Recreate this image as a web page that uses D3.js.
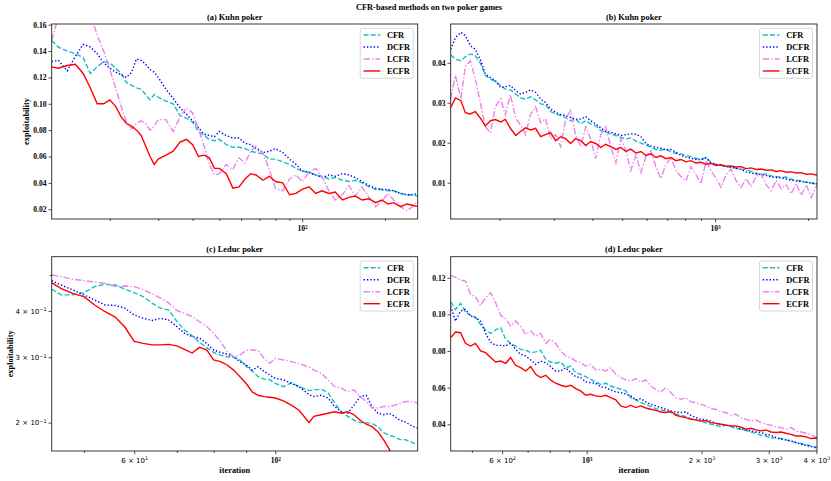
<!DOCTYPE html>
<html>
<head>
<meta charset="utf-8">
<title>CFR-based methods on two poker games</title>
<script src="https://cdn.jsdelivr.net/npm/d3@7/dist/d3.min.js"></script>
<style>
  body { margin: 0; background: #fff; }
  text { font-family: "Liberation Serif", "Times New Roman", serif; font-weight: bold; fill: #000; }
  text.sans { font-family: "DejaVu Sans", sans-serif; font-weight: normal; }
</style>
</head>
<body>
<svg id="fig" width="831" height="481"></svg>
<script>
// legend order
var methods = ['CFR', 'DCFR', 'LCFR', 'ECFR'];

// (a) Kuhn poker, short run
var iterA = [12.3, 13, 14, 15, 16, 17, 18, 19, 20, 21, 22, 23, 24, 25, 26, 27, 28, 29, 30, 32, 34, 36, 38, 40, 42, 44, 46, 48, 50, 53,
  56, 59, 62, 65, 68, 72, 76, 80, 85, 90, 95, 100, 106, 112, 118, 125, 132, 140, 148, 156, 165, 175, 185, 195, 205, 215, 228, 240, 252, 263];
var cfrA = [0.148, 0.143, 0.140, 0.138, 0.135, 0.123, 0.128, 0.132, 0.131, 0.127, 0.123, 0.116, 0.114, 0.112, 0.111, 0.107, 0.103, 0.107, 0.105, 0.102,
  0.100, 0.091, 0.089, 0.086, 0.079, 0.076, 0.073, 0.072, 0.073, 0.069, 0.067, 0.067, 0.066, 0.064, 0.063, 0.062, 0.058, 0.058, 0.056, 0.054,
  0.051, 0.049, 0.048, 0.046, 0.045, 0.043, 0.044, 0.042, 0.041, 0.042, 0.040, 0.037, 0.035, 0.035, 0.034, 0.034, 0.032, 0.031, 0.031, 0.030];
var dcfrA = [0.132, 0.133, 0.125, 0.136, 0.145, 0.143, 0.138, 0.131, 0.127, 0.124, 0.122, 0.120, 0.124, 0.134, 0.133, 0.130, 0.126, 0.124, 0.120, 0.111,
  0.104, 0.097, 0.092, 0.087, 0.082, 0.077, 0.076, 0.075, 0.079, 0.076, 0.074, 0.074, 0.070, 0.069, 0.066, 0.063, 0.064, 0.066, 0.063, 0.058,
  0.054, 0.049, 0.048, 0.046, 0.044, 0.046, 0.045, 0.047, 0.046, 0.044, 0.041, 0.038, 0.036, 0.035, 0.035, 0.034, 0.032, 0.031, 0.031, 0.032];
var lcfrA = [0.148, 0.166, 0.185, 0.195, 0.190, 0.168, 0.152, 0.140, 0.126, 0.112, 0.098, 0.086, 0.081, 0.085, 0.087, 0.085, 0.080, 0.083, 0.088, 0.088,
  0.079, 0.090, 0.097, 0.093, 0.081, 0.068, 0.054, 0.046, 0.047, 0.054, 0.050, 0.059, 0.055, 0.064, 0.068, 0.063, 0.050, 0.036, 0.034, 0.043,
  0.046, 0.041, 0.048, 0.051, 0.045, 0.034, 0.027, 0.031, 0.038, 0.030, 0.037, 0.029, 0.022, 0.026, 0.032, 0.027, 0.022, 0.019, 0.022, 0.026];
var ecfrA = [0.128, 0.127, 0.129, 0.130, 0.123, 0.112, 0.100, 0.100, 0.103, 0.098, 0.090, 0.085, 0.083, 0.080, 0.076, 0.068, 0.060, 0.054, 0.058, 0.061,
  0.064, 0.071, 0.073, 0.069, 0.060, 0.061, 0.059, 0.051, 0.051, 0.047, 0.036, 0.037, 0.043, 0.047, 0.046, 0.042, 0.045, 0.041, 0.040, 0.031,
  0.032, 0.035, 0.037, 0.032, 0.034, 0.032, 0.033, 0.027, 0.029, 0.030, 0.027, 0.028, 0.025, 0.027, 0.024, 0.025, 0.022, 0.024, 0.023, 0.022];

// (b) Kuhn poker, long run
var iterB = [139, 144, 150, 155, 161, 167, 174, 180, 187, 194, 202, 209, 217, 226, 234, 243, 252, 262, 272, 282, 293, 304, 316, 328, 340,
  353, 367, 381, 395, 410, 426, 442, 459, 477, 495, 514, 533, 554, 575, 597, 619, 643, 667, 693, 719, 747, 775, 805, 835, 867,
  900, 935, 970, 1007, 1046, 1085, 1127, 1170, 1214, 1261, 1309, 1358, 1410, 1464, 1520, 1578, 1638, 1700, 1765, 1832, 1902, 1975, 2050, 2128, 2140];
var cfrB = [0.0420, 0.0409, 0.0405, 0.0415, 0.0422, 0.0418, 0.0397, 0.0368, 0.0359, 0.0353, 0.0343, 0.0334, 0.0332, 0.0322, 0.0312, 0.0309, 0.0315, 0.0307, 0.0297, 0.0295,
  0.0278, 0.0272, 0.0268, 0.0263, 0.0255, 0.0259, 0.0247, 0.0255, 0.0247, 0.0243, 0.0230, 0.0226, 0.0222, 0.0218, 0.0213, 0.0209, 0.0212, 0.0204, 0.0199, 0.0194,
  0.0189, 0.0183, 0.0181, 0.0184, 0.0177, 0.0173, 0.0172, 0.0168, 0.0165, 0.0161, 0.0159, 0.0163, 0.0150, 0.0146, 0.0143, 0.0141, 0.0138, 0.0136, 0.0134, 0.0133,
  0.0128, 0.0124, 0.0120, 0.0122, 0.0117, 0.0115, 0.0113, 0.0114, 0.0109, 0.0106, 0.0104, 0.0101, 0.0099, 0.0097, 0.0098];
var dcfrB = [0.0434, 0.0463, 0.0476, 0.0468, 0.0443, 0.0434, 0.0405, 0.0372, 0.0363, 0.0355, 0.0338, 0.0340, 0.0343, 0.0330, 0.0322, 0.0326, 0.0332, 0.0326, 0.0309, 0.0301,
  0.0284, 0.0276, 0.0270, 0.0268, 0.0263, 0.0259, 0.0259, 0.0265, 0.0255, 0.0247, 0.0237, 0.0228, 0.0226, 0.0222, 0.0218, 0.0220, 0.0222, 0.0221, 0.0215, 0.0198,
  0.0192, 0.0188, 0.0186, 0.0182, 0.0183, 0.0176, 0.0168, 0.0164, 0.0161, 0.0158, 0.0157, 0.0162, 0.0149, 0.0145, 0.0143, 0.0140, 0.0139, 0.0136, 0.0133, 0.0127,
  0.0124, 0.0122, 0.0120, 0.0118, 0.0114, 0.0113, 0.0112, 0.0109, 0.0106, 0.0104, 0.0103, 0.0101, 0.0099, 0.0097, 0.0097];
var lcfrB = [0.0310, 0.0368, 0.0310, 0.0390, 0.0405, 0.0360, 0.0295, 0.0240, 0.0225, 0.0290, 0.0310, 0.0270, 0.0320, 0.0260, 0.0245, 0.0220, 0.0270, 0.0290, 0.0250, 0.0260,
  0.0210, 0.0220, 0.0190, 0.0260, 0.0280, 0.0220, 0.0190, 0.0240, 0.0210, 0.0160, 0.0220, 0.0240, 0.0190, 0.0150, 0.0210, 0.0180, 0.0130, 0.0170, 0.0125, 0.0165,
  0.0180, 0.0140, 0.0110, 0.0145, 0.0163, 0.0130, 0.0115, 0.0105, 0.0140, 0.0120, 0.0097, 0.0155, 0.0130, 0.0110, 0.0088, 0.0120, 0.0134, 0.0105, 0.0088, 0.0110,
  0.0090, 0.0115, 0.0122, 0.0095, 0.0080, 0.0105, 0.0085, 0.0095, 0.0072, 0.0098, 0.0068, 0.0095, 0.0063, 0.0090, 0.0095];
var ecfrB = [0.0288, 0.0312, 0.0305, 0.0275, 0.0272, 0.0278, 0.0260, 0.0242, 0.0255, 0.0258, 0.0252, 0.0258, 0.0236, 0.0218, 0.0228, 0.0237, 0.0232, 0.0236, 0.0215, 0.0220,
  0.0225, 0.0205, 0.0215, 0.0210, 0.0198, 0.0210, 0.0205, 0.0193, 0.0203, 0.0198, 0.0188, 0.0196, 0.0190, 0.0183, 0.0188, 0.0178, 0.0184, 0.0174, 0.0178, 0.0168,
  0.0172, 0.0163, 0.0167, 0.0160, 0.0163, 0.0155, 0.0158, 0.0152, 0.0155, 0.0149, 0.0151, 0.0146, 0.0148, 0.0143, 0.0145, 0.0141, 0.0142, 0.0139, 0.0140, 0.0135,
  0.0137, 0.0133, 0.0134, 0.0131, 0.0132, 0.0128, 0.0130, 0.0126, 0.0127, 0.0124, 0.0125, 0.0121, 0.0122, 0.0119, 0.0120];

// (c) Leduc poker, short run
var iterC = [44.5, 46, 48, 50, 52, 54, 56, 58, 60, 62, 64, 66, 68, 70, 72, 74, 76, 78, 80, 82, 84, 86, 88, 90, 92, 94, 96, 98, 100,
  103, 106, 109, 113, 115, 118, 121, 124, 127, 130, 133, 136, 139, 142, 145, 148, 151, 154, 157, 160, 163, 167.5];
var cfrC = [0.458, 0.442, 0.442, 0.448, 0.465, 0.472, 0.470, 0.458, 0.448, 0.437, 0.420, 0.407, 0.402, 0.375, 0.355, 0.343, 0.329, 0.319, 0.309, 0.304,
  0.301, 0.300, 0.295, 0.284, 0.275, 0.266, 0.262, 0.261, 0.255, 0.250, 0.256, 0.250, 0.244, 0.245, 0.246, 0.241, 0.226, 0.214, 0.208, 0.203,
  0.200, 0.200, 0.199, 0.195, 0.188, 0.185, 0.183, 0.180, 0.180, 0.178, 0.174];
var dcfrC = [0.483, 0.470, 0.456, 0.442, 0.428, 0.415, 0.414, 0.407, 0.390, 0.382, 0.377, 0.382, 0.378, 0.363, 0.348, 0.341, 0.338, 0.327, 0.314, 0.309,
  0.306, 0.301, 0.292, 0.286, 0.277, 0.283, 0.275, 0.269, 0.263, 0.261, 0.255, 0.250, 0.238, 0.235, 0.237, 0.233, 0.221, 0.214, 0.212, 0.223,
  0.235, 0.237, 0.221, 0.212, 0.210, 0.212, 0.208, 0.203, 0.201, 0.197, 0.193];
var lcfrC = [0.500, 0.495, 0.487, 0.483, 0.478, 0.475, 0.465, 0.467, 0.465, 0.456, 0.445, 0.433, 0.420, 0.401, 0.394, 0.386, 0.374, 0.363, 0.348, 0.331,
  0.311, 0.301, 0.304, 0.313, 0.314, 0.313, 0.298, 0.289, 0.298, 0.295, 0.292, 0.289, 0.282, 0.277, 0.272, 0.261, 0.250, 0.248, 0.242, 0.245,
  0.235, 0.228, 0.219, 0.219, 0.221, 0.221, 0.223, 0.225, 0.228, 0.228, 0.226];
var ecfrC = [0.477, 0.460, 0.446, 0.437, 0.415, 0.398, 0.385, 0.362, 0.331, 0.327, 0.324, 0.324, 0.325, 0.322, 0.315, 0.308, 0.319, 0.314, 0.295, 0.292,
  0.286, 0.277, 0.266, 0.255, 0.242, 0.237, 0.235, 0.234, 0.233, 0.229, 0.223, 0.216, 0.200, 0.208, 0.210, 0.212, 0.214, 0.212, 0.214, 0.210,
  0.203, 0.198, 0.195, 0.189, 0.180, 0.170, 0.158, 0.146, 0.135, 0.125, 0.115];

// (d) Leduc poker, long run
var iterD = [440, 453, 467, 481, 496, 511, 527, 543, 560, 577, 595, 613, 632, 651, 671, 692, 713, 735, 757, 781, 804, 829, 855, 881, 908,
  936, 964, 994, 1025, 1056, 1088, 1122, 1156, 1192, 1228, 1266, 1305, 1345, 1386, 1429, 1472, 1518, 1564, 1612, 1662, 1713, 1765, 1819, 1875, 1933,
  1992, 2053, 2116, 2181, 2248, 2317, 2388, 2461, 2537, 2615, 2695, 2778, 2863, 2951, 3041, 3135, 3231, 3330, 3432, 3538, 3646, 3758, 3873, 3992, 4015];
var cfrD = [0.1069, 0.1027, 0.1060, 0.1013, 0.0995, 0.0984, 0.0945, 0.0915, 0.0896, 0.0915, 0.0927, 0.0864, 0.0842, 0.0827, 0.0809, 0.0805, 0.0791, 0.0795, 0.0804, 0.0755,
  0.0740, 0.0733, 0.0740, 0.0709, 0.0718, 0.0682, 0.0673, 0.0660, 0.0645, 0.0631, 0.0618, 0.0624, 0.0609, 0.0600, 0.0591, 0.0582, 0.0545, 0.0533, 0.0518, 0.0509,
  0.0496, 0.0485, 0.0478, 0.0473, 0.0464, 0.0456, 0.0449, 0.0442, 0.0431, 0.0424, 0.0416, 0.0409, 0.0400, 0.0395, 0.0387, 0.0395, 0.0387, 0.0376, 0.0373, 0.0365,
  0.0358, 0.0351, 0.0340, 0.0336, 0.0325, 0.0327, 0.0322, 0.0315, 0.0307, 0.0300, 0.0295, 0.0289, 0.0282, 0.0275, 0.0273];
var dcfrD = [0.1045, 0.0964, 0.1018, 0.1027, 0.0991, 0.0982, 0.0964, 0.0896, 0.0849, 0.0831, 0.0831, 0.0827, 0.0842, 0.0809, 0.0782, 0.0773, 0.0751, 0.0727, 0.0745, 0.0736,
  0.0715, 0.0691, 0.0691, 0.0709, 0.0682, 0.0660, 0.0655, 0.0631, 0.0627, 0.0624, 0.0605, 0.0600, 0.0587, 0.0576, 0.0573, 0.0564, 0.0555, 0.0533, 0.0540, 0.0522,
  0.0509, 0.0500, 0.0491, 0.0482, 0.0473, 0.0467, 0.0464, 0.0467, 0.0449, 0.0436, 0.0427, 0.0424, 0.0418, 0.0405, 0.0400, 0.0395, 0.0391, 0.0387, 0.0376, 0.0369,
  0.0364, 0.0358, 0.0355, 0.0345, 0.0340, 0.0327, 0.0318, 0.0315, 0.0309, 0.0300, 0.0291, 0.0285, 0.0278, 0.0271, 0.0267];
var lcfrD = [0.1213, 0.1202, 0.1187, 0.1182, 0.1109, 0.1096, 0.1049, 0.1091, 0.1118, 0.1064, 0.0995, 0.0976, 0.0936, 0.0964, 0.0936, 0.0891, 0.0909, 0.0882, 0.0896, 0.0842,
  0.0864, 0.0842, 0.0800, 0.0773, 0.0764, 0.0745, 0.0736, 0.0718, 0.0727, 0.0696, 0.0700, 0.0691, 0.0709, 0.0673, 0.0655, 0.0642, 0.0636, 0.0649, 0.0631, 0.0642,
  0.0609, 0.0591, 0.0576, 0.0600, 0.0573, 0.0545, 0.0536, 0.0545, 0.0522, 0.0518, 0.0509, 0.0500, 0.0485, 0.0482, 0.0467, 0.0464, 0.0449, 0.0455, 0.0436, 0.0427,
  0.0418, 0.0424, 0.0409, 0.0400, 0.0395, 0.0387, 0.0382, 0.0373, 0.0382, 0.0364, 0.0358, 0.0351, 0.0345, 0.0327, 0.0336];
var ecfrD = [0.0873, 0.0904, 0.0900, 0.0842, 0.0827, 0.0842, 0.0800, 0.0791, 0.0764, 0.0740, 0.0745, 0.0733, 0.0764, 0.0722, 0.0709, 0.0691, 0.0715, 0.0673, 0.0655, 0.0667,
  0.0642, 0.0624, 0.0613, 0.0605, 0.0613, 0.0595, 0.0582, 0.0558, 0.0564, 0.0555, 0.0551, 0.0558, 0.0545, 0.0533, 0.0500, 0.0491, 0.0504, 0.0491, 0.0500, 0.0489,
  0.0482, 0.0476, 0.0467, 0.0464, 0.0471, 0.0449, 0.0442, 0.0436, 0.0427, 0.0424, 0.0418, 0.0420, 0.0409, 0.0405, 0.0400, 0.0395, 0.0391, 0.0391, 0.0384, 0.0373,
  0.0378, 0.0369, 0.0364, 0.0369, 0.0358, 0.0355, 0.0358, 0.0351, 0.0345, 0.0336, 0.0336, 0.0331, 0.0322, 0.0325, 0.0322];

// tick values and labels ("^" marks the exponent)
var yTicksA = [0.02, 0.04, 0.06, 0.08, 0.10, 0.12, 0.14, 0.16];
var yTicksB = [0.01, 0.02, 0.03, 0.04];
var yTicksC = [0.2, 0.3, 0.4];
var yLabelsC = ['2 × 10^−1', '3 × 10^−1', '4 × 10^−1'];
var yTicksD = [0.04, 0.06, 0.08, 0.10, 0.12];
var xTicksA = [100], xLabelsA = ['10^2'];
var xTicksB = [1000], xLabelsB = ['10^3'];
var xTicksC = [60, 100], xLabelsC = ['6 × 10^1', '10^2'];
var xTicksD = [600, 1000, 2000, 3000, 4000], xLabelsD = ['6 × 10^2', '10^3', '2 × 10^3', '3 × 10^3', '4 × 10^3'];

var svg = d3.select('#fig');
svg.append('rect').attr('width', 831).attr('height', 481).attr('fill', '#fff');

var colors = ['#17c0c0', '#0000ff', '#ee82ee', '#ff0000'];
var dashes = ['5,2.2', '1.4,2', '6.5,2,1.4,2', null];

var fmt2 = d3.format('.2f');

var panels = [
  {title: '(a) Kuhn poker', left: 51.7, right: 417.7, top: 24, bottom: 219,
   iters: iterA, series: [cfrA, dcfrA, lcfrA, ecfrA], xDomain: [12.3, 263], yDomain: [0.0126, 0.1605], ylog: false,
   yTicks: yTicksA, yLabels: yTicksA.map(fmt2), yMinor: [],
   xTicks: xTicksA, xLabels: xLabelsA, xMinor: [20, 30, 40, 50, 60, 70, 80, 90, 200], ylabelX: 28.5, xlabel: false},
  {title: '(b) Kuhn poker', left: 450.7, right: 817, top: 24, bottom: 219,
   iters: iterB, series: [cfrB, dcfrB, lcfrB, ecfrB], xDomain: [139, 2140], yDomain: [0.0009, 0.0497], ylog: false,
   yTicks: yTicksB, yLabels: yTicksB.map(fmt2), yMinor: [],
   xTicks: xTicksB, xLabels: xLabelsB, xMinor: [200, 300, 400, 500, 600, 700, 800, 900, 2000], ylabelX: null, xlabel: false},
  {title: '(c) Leduc poker', left: 51.7, right: 417.7, top: 256.7, bottom: 451,
   iters: iterC, series: [cfrC, dcfrC, lcfrC, ecfrC], xDomain: [44.5, 167.5], yDomain: [0.1677, 0.560], ylog: true,
   yTicks: yTicksC, yLabels: yLabelsC, yMinor: [0.5],
   xTicks: xTicksC, xLabels: xLabelsC, xMinor: [50, 70, 80, 90], ylabelX: 13, xlabel: true},
  {title: '(d) Leduc poker', left: 450.7, right: 817, top: 256.7, bottom: 451,
   iters: iterD, series: [cfrD, dcfrD, lcfrD, ecfrD], xDomain: [440, 4015], yDomain: [0.0254, 0.1315], ylog: false,
   yTicks: yTicksD, yLabels: yTicksD.map(fmt2), yMinor: [],
   xTicks: xTicksD, xLabels: xLabelsD, xMinor: [500, 700, 800, 900], ylabelX: null, xlabel: true}
];

function cleanAxis(g) {
  g.attr('font-family', null).attr('font-size', null);
  g.select('.domain').remove();
  g.selectAll('line').attr('stroke', '#222').attr('stroke-width', 0.8);
}

// labels with a "×" are the log-formatter ones, drawn in the plain sans face;
// anything after "^" becomes a raised exponent
function styleLabels(g, size) {
  g.selectAll('text').each(function() {
    var t = d3.select(this);
    var s = this.textContent;
    var sans = s.indexOf('×') >= 0;
    t.attr('fill', '#000').attr('class', sans ? 'sans' : null).attr('font-size', sans ? 7 : size);
    if (s.indexOf('^') >= 0) {
      var parts = s.split('^');
      t.text(null);
      t.append('tspan').text(parts[0]);
      t.append('tspan').attr('dy', '-0.45em').attr('font-size', '0.7em').text(parts[1]);
    }
  });
}

panels.forEach(function(p, idx) {
  var x = d3.scaleLog().domain(p.xDomain).range([p.left, p.right]);
  var y = (p.ylog ? d3.scaleLog() : d3.scaleLinear()).domain(p.yDomain).range([p.bottom, p.top]);

  var clipId = 'clip' + idx;
  svg.append('clipPath').attr('id', clipId).append('rect')
    .attr('x', p.left).attr('y', p.top)
    .attr('width', p.right - p.left).attr('height', p.bottom - p.top);

  var line = d3.line()
    .x((d, i) => x(p.iters[i]))
    .y(d => y(d));

  var plot = svg.append('g').attr('clip-path', `url(#${clipId})`);
  p.series.forEach(function(vals, k) {
    plot.append('path')
      .attr('d', line(vals))
      .attr('fill', 'none')
      .attr('stroke', colors[k])
      .attr('stroke-width', 1.4)
      .attr('stroke-dasharray', dashes[k]);
  });

  // y axis
  var yAxis = d3.axisLeft(y).tickValues(p.yTicks)
    .tickFormat(d => p.yLabels[p.yTicks.indexOf(d)])
    .tickSize(3.2).tickPadding(2);
  svg.append('g').attr('transform', `translate(${p.left},0)`)
    .call(yAxis).call(cleanAxis).call(styleLabels, 7.6);
  if (p.yMinor.length) {
    svg.append('g').attr('transform', `translate(${p.left},0)`)
      .call(d3.axisLeft(y).tickValues(p.yMinor).tickFormat('').tickSize(2))
      .call(cleanAxis);
  }

  // x axis: labelled ticks then bare minor ticks
  var xAxis = d3.axisBottom(x).tickValues(p.xTicks)
    .tickFormat(d => p.xLabels[p.xTicks.indexOf(d)])
    .tickSize(3.2).tickPadding(3.5);
  svg.append('g').attr('transform', `translate(0,${p.bottom})`)
    .call(xAxis).call(cleanAxis).call(styleLabels, 7.6);
  svg.append('g').attr('transform', `translate(0,${p.bottom})`)
    .call(d3.axisBottom(x).tickValues(p.xMinor).tickFormat('').tickSize(2))
    .call(cleanAxis);

  // frame
  svg.append('rect')
    .attr('x', p.left).attr('y', p.top)
    .attr('width', p.right - p.left).attr('height', p.bottom - p.top)
    .attr('fill', 'none').attr('stroke', '#222').attr('stroke-width', 0.9);

  svg.append('text')
    .attr('x', (p.left + p.right) / 2).attr('y', p.top - 4.5)
    .attr('text-anchor', 'middle').attr('font-size', 8.4)
    .text(p.title);

  if (p.ylabelX !== null) {
    svg.append('text')
      .attr('transform', `translate(${p.ylabelX},${(p.top + p.bottom) / 2}) rotate(-90)`)
      .attr('text-anchor', 'middle').attr('font-size', 8.4)
      .text('exploitability');
  }
  if (p.xlabel) {
    svg.append('text')
      .attr('x', (p.left + p.right) / 2).attr('y', 473)
      .attr('text-anchor', 'middle').attr('font-size', 8.4)
      .text('iteration');
  }

  // legend
  var lg = svg.append('g').attr('transform', `translate(${p.right - 57.5},${p.top + 4.3})`);
  lg.append('rect')
    .attr('width', 53).attr('height', 50).attr('rx', 2)
    .attr('fill', '#fff').attr('fill-opacity', 0.8)
    .attr('stroke', '#cccccc').attr('stroke-width', 0.8);
  methods.forEach(function(m, k) {
    var yy = 6.7 + 12 * k;
    lg.append('line')
      .attr('x1', 3.3).attr('x2', 20).attr('y1', yy).attr('y2', yy)
      .attr('stroke', colors[k]).attr('stroke-width', 1.4)
      .attr('stroke-dasharray', dashes[k]);
    lg.append('text')
      .attr('x', 26.7).attr('y', yy).attr('dy', '0.35em')
      .attr('font-size', 8.4)
      .text(m);
  });
});

svg.append('text')
  .attr('x', 429).attr('y', 10)
  .attr('text-anchor', 'middle').attr('font-size', 8.4)
  .text('CFR-based methods on two poker games');
</script>
</body>
</html>
